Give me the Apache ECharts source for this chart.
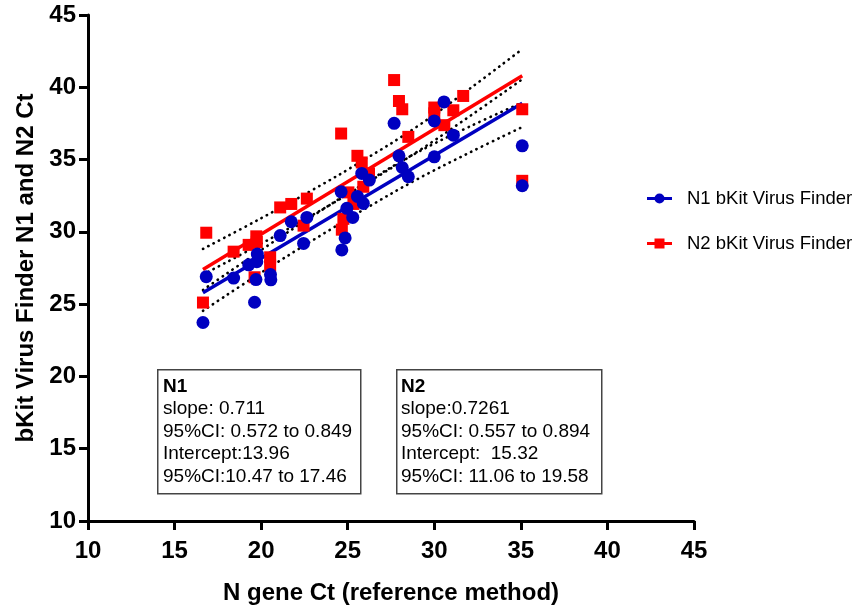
<!DOCTYPE html>
<html>
<head>
<meta charset="utf-8">
<script src="https://cdn.jsdelivr.net/npm/echarts@6/dist/echarts.min.js"></script>
<style>
  html, body { margin: 0; padding: 0; background: #fff; }
  #chart { width: 854px; height: 612px; }
</style>
</head>
<body>
<div id="chart"></div>
<script>
// ---- Data ----
const n1X = [16.64, 16.83, 18.41, 19.62, 19.70, 20.56, 20.54, 19.28, 19.78, 19.75, 21.10, 21.74, 22.45, 22.64, 24.62, 24.66, 24.85, 24.95, 25.29, 25.56, 25.90, 25.81, 26.25, 27.68, 27.96, 28.15, 28.50, 30.00, 30.00, 30.56, 31.10, 35.08, 35.08];
const n1Y = [23.73, 26.90, 26.80, 25.13, 26.70, 26.68, 27.05, 27.72, 28.47, 27.94, 29.74, 30.70, 29.20, 31.00, 32.77, 28.75, 29.58, 31.63, 31.00, 32.45, 31.97, 34.04, 33.58, 37.51, 35.26, 34.45, 33.81, 35.19, 37.67, 38.99, 36.69, 35.95, 33.19];

const n2X = [16.64, 16.83, 18.41, 19.28, 19.72, 19.75, 19.62, 20.52, 20.52, 21.10, 21.74, 22.64, 22.45, 24.62, 25.56, 25.81, 26.23, 25.90, 25.04, 25.33, 24.75, 24.66, 27.68, 27.96, 28.15, 28.50, 30.00, 30.00, 30.58, 31.10, 31.67, 35.08, 35.08];
const n2Y = [25.11, 29.94, 28.63, 29.10, 29.69, 29.30, 26.86, 28.24, 27.67, 31.69, 31.93, 32.30, 30.43, 36.80, 35.26, 34.80, 34.04, 33.12, 32.73, 31.93, 30.90, 30.15, 40.50, 39.05, 38.48, 36.57, 38.60, 38.20, 37.38, 38.41, 39.40, 38.48, 33.53];

// regression fits (from the annotation boxes)
const fitSlope = [0.711, 0.7261];
const fitIntercept = [13.96, 15.32];

// 95% confidence bands
const bandX   = [16.64, 20, 23, 26, 29, 32, 35.08];
const n1Upper = [27.04, 29.18, 31.19, 33.31, 35.53, 37.96, 40.55];
const n1Lower = [24.54, 27.18, 29.43, 31.59, 33.63, 35.46, 37.25];
const n2Upper = [28.82, 30.94, 32.92, 35.02, 37.28, 39.86, 42.64];
const n2Lower = [25.98, 28.74, 31.12, 33.38, 35.48, 37.26, 38.94];

const seriesNames = ['N1 bKit Virus Finder', 'N2 bKit Virus Finder'];
const box1Lines = ['N1', 'slope: 0.711', '95%CI: 0.572 to 0.849', 'Intercept:13.96', '95%CI:10.47 to 17.46'];
const box2Lines = ['N2', 'slope:0.7261', '95%CI: 0.557 to 0.894', 'Intercept:  15.32', '95%CI: 11.06 to 19.58'];

const xTicks = [10, 15, 20, 25, 30, 35, 40, 45];
const yTicks = [10, 15, 20, 25, 30, 35, 40, 45];

// ---- Build ----
const BLUE = '#0000c0';
const RED = '#ff0000';
const FONT = '"Liberation Sans", Arial, sans-serif';

function zip(xs, ys) { return xs.map((x, i) => [x, ys[i]]); }
function fitLine(xs, k) {
  const lo = Math.min.apply(null, xs), hi = Math.max.apply(null, xs);
  return [[lo, fitSlope[k] * lo + fitIntercept[k]], [hi, fitSlope[k] * hi + fitIntercept[k]]];
}
function band(ys) {
  return {
    type: 'line', data: zip(bandX, ys), smooth: 0.4, symbol: 'none', z: 1, silent: true,
    lineStyle: { color: '#000', width: 2.6, type: [0.4, 5.6], cap: 'round' }
  };
}
function boxText(lines) {
  return '{b|' + lines[0] + '}\n' + lines.slice(1).map(l => '{t|' + l + '}').join('\n');
}
const richStyle = {
  b: { fontFamily: FONT, fontSize: 19, fontWeight: 'bold', lineHeight: 22.5, fill: '#000' },
  t: { fontFamily: FONT, fontSize: 19, lineHeight: 22.5, fill: '#000' }
};

const chart = echarts.init(document.getElementById('chart'), null, { renderer: 'canvas' });
chart.setOption({
  animation: false,
  backgroundColor: '#fff',
  textStyle: { fontFamily: FONT },
  grid: { left: 88, top: 15, width: 606, height: 506, containLabel: false },
  xAxis: {
    type: 'value', min: xTicks[0], max: xTicks[xTicks.length - 1], interval: 5,
    name: 'N gene Ct (reference method)', nameLocation: 'middle', nameGap: 60,
    nameTextStyle: { fontFamily: FONT, fontSize: 24, fontWeight: 'bold', color: '#000' },
    axisLine: { lineStyle: { color: '#000', width: 3 } },
    axisTick: { length: 9, lineStyle: { color: '#000', width: 3 } },
    axisLabel: { margin: 18, fontFamily: FONT, fontSize: 24, fontWeight: 'bold', color: '#000' },
    splitLine: { show: false }
  },
  yAxis: {
    type: 'value', min: yTicks[0], max: yTicks[yTicks.length - 1], interval: 5,
    name: 'bKit Virus Finder N1 and N2 Ct', nameLocation: 'middle', nameGap: 50,
    nameTextStyle: { fontFamily: FONT, fontSize: 24, fontWeight: 'bold', color: '#000' },
    axisLine: { lineStyle: { color: '#000', width: 3 } },
    axisTick: { length: 9, lineStyle: { color: '#000', width: 3 } },
    axisLabel: { margin: 12, fontFamily: FONT, fontSize: 24, fontWeight: 'bold', color: '#000' },
    splitLine: { show: false }
  },
  legend: {
    orient: 'vertical', left: 642, top: 184, itemWidth: 25, itemHeight: 11, itemGap: 26,
    textStyle: { fontFamily: FONT, fontSize: 18.5, color: '#000', padding: [0, 0, 0, 10] },
    data: [
      { name: seriesNames[0], icon: 'path://M0,4H25V7H0Z M17.5,5.5A5,5 0 1,1 7.5,5.5A5,5 0 1,1 17.5,5.5Z' },
      { name: seriesNames[1], icon: 'path://M0,4H25V7H0Z M7.5,0.5H17.5V10.5H7.5Z' }
    ]
  },
  series: [
    band(n1Upper), band(n1Lower), band(n2Upper), band(n2Lower),
    { type: 'line', data: fitLine(n2X, 1), symbol: 'none', z: 2, silent: true,
      lineStyle: { color: RED, width: 3.5 } },
    { type: 'line', data: fitLine(n1X, 0), symbol: 'none', z: 2, silent: true,
      lineStyle: { color: BLUE, width: 3.5 } },
    { name: seriesNames[1], type: 'scatter', data: zip(n2X, n2Y), symbol: 'rect', symbolSize: 12, z: 3,
      itemStyle: { color: RED, opacity: 1 } },
    { name: seriesNames[0], type: 'scatter', data: zip(n1X, n1Y), symbol: 'circle', symbolSize: 13, z: 4,
      itemStyle: { color: BLUE, opacity: 1 } }
  ],
  graphic: [
    { type: 'rect', left: 157, top: 369, shape: { width: 203, height: 124 }, z: 10,
      style: { fill: '#fff', stroke: '#444', lineWidth: 1.5 } },
    { type: 'text', left: 163, top: 377, z: 11, style: { text: boxText(box1Lines), rich: richStyle } },
    { type: 'rect', left: 396, top: 369, shape: { width: 205, height: 124 }, z: 10,
      style: { fill: '#fff', stroke: '#444', lineWidth: 1.5 } },
    { type: 'text', left: 401, top: 377, z: 11, style: { text: boxText(box2Lines), rich: richStyle } }
  ]
});
</script>
</body>
</html>
